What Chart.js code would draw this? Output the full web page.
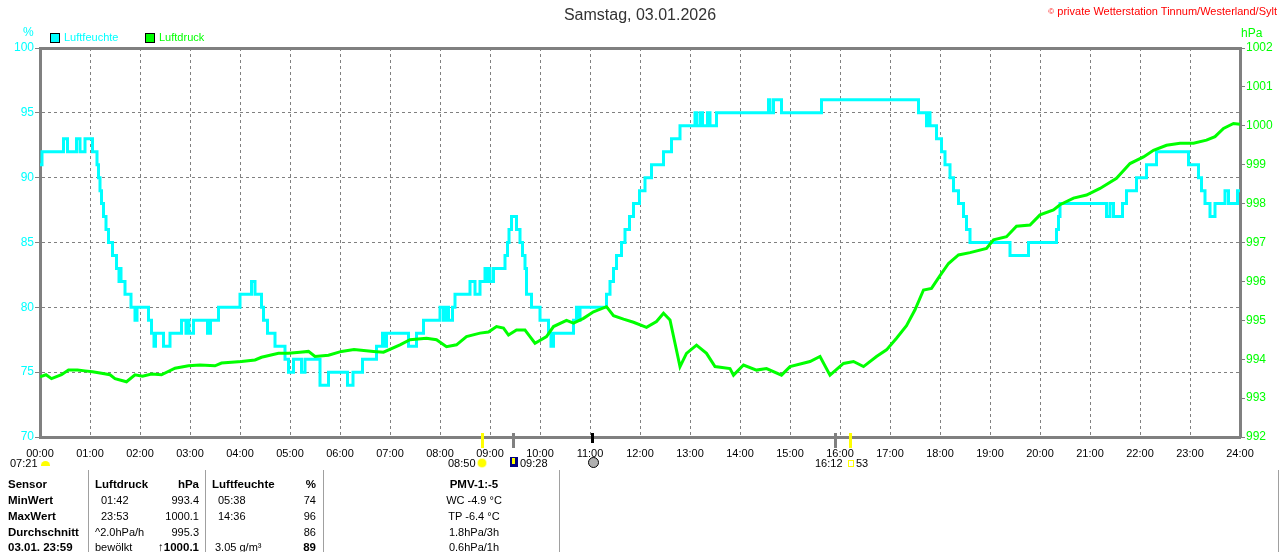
<!DOCTYPE html>
<html>
<head>
<meta charset="utf-8">
<script src="https://cdn.jsdelivr.net/npm/chart.js@4.4.1/dist/chart.umd.min.js"></script>
<style>
body { margin:0; background:#fff; font-family:"Liberation Sans", Arial, sans-serif; }
#wrap { position:relative; width:1280px; height:552px; overflow:hidden; }
#chart { position:absolute; left:0; top:0; }
.t { position:absolute; font-size:11px; line-height:13px; white-space:nowrap; color:#000; }
.b { font-weight:bold; font-size:11.5px; }
.vl { position:absolute; top:470px; height:82px; width:1px; background:#a0a0a0; }
</style>
</head>
<body>
<div id="wrap">
<canvas id="chart" width="1280" height="552"></canvas>

<div class="t" style="left:0;width:1280px;text-align:center;top:6px;font-size:16px;line-height:18px;color:#333">Samstag, 03.01.2026</div>
<div class="t" style="right:3px;top:5px;color:#ff0000"><span style="font-size:8px;vertical-align:top">©</span> private Wetterstation Tinnum/Westerland/Sylt</div>

<div class="t" style="left:23px;top:26px;color:#00ffff;font-size:12px">%</div>
<div class="t" style="left:1241px;top:27px;color:#00ff00;font-size:12px">hPa</div>
<div style="position:absolute;left:50px;top:33px;width:8px;height:8px;border:1px solid #000;background:#00ffff"></div>
<div class="t" style="left:64px;top:31px;color:#00ffff">Luftfeuchte</div>
<div style="position:absolute;left:145px;top:33px;width:8px;height:8px;border:1px solid #000;background:#00ff00"></div>
<div class="t" style="left:159px;top:31px;color:#00ff00">Luftdruck</div>

<!-- sun / event markers under the axis -->
<div class="t" style="left:10px;top:457px">07:21</div>
<div style="position:absolute;left:41px;top:461px;width:9px;height:5px;background:#ffff00;border-radius:5px 5px 0 0"></div>
<div class="t" style="left:448px;top:457px">08:50</div>
<div style="position:absolute;left:478px;top:459px;width:8px;height:8px;background:#ffff00;border-radius:50%;box-shadow:0 0 0 1px #ffffa0"></div>
<div style="position:absolute;left:510px;top:457px;width:8px;height:10px;background:#000080"><div style="position:absolute;left:2px;top:1px;width:3px;height:6px;background:#ffff00"></div></div>
<div class="t" style="left:520px;top:457px">09:28</div>
<div style="position:absolute;left:588px;top:457px;width:9px;height:9px;border:1px solid #000;border-radius:50%;background:#b0b0b0"></div>
<div class="t" style="left:815px;top:457px">16:12</div>
<div style="position:absolute;left:848px;top:460px;width:4px;height:5px;border:1px solid #ffff00"></div>
<div class="t" style="left:856px;top:457px">53</div>

<!-- table -->
<div class="vl" style="left:88px"></div>
<div class="vl" style="left:205px"></div>
<div class="vl" style="left:323px"></div>
<div class="vl" style="left:559px"></div>
<div class="vl" style="left:1278px"></div>

<div class="t b" style="left:8px;top:478px">Sensor</div>
<div class="t b" style="left:95px;top:478px">Luftdruck</div>
<div class="t b" style="right:1081px;top:478px">hPa</div>
<div class="t b" style="left:212px;top:478px">Luftfeuchte</div>
<div class="t b" style="right:964px;top:478px">%</div>
<div class="t b" style="left:424px;width:100px;text-align:center;top:478px">PMV-1:-5</div>

<div class="t b" style="left:8px;top:494px">MinWert</div>
<div class="t" style="left:101px;top:494px">01:42</div>
<div class="t" style="right:1081px;top:494px">993.4</div>
<div class="t" style="left:218px;top:494px">05:38</div>
<div class="t" style="right:964px;top:494px">74</div>
<div class="t" style="left:424px;width:100px;text-align:center;top:494px">WC -4.9 °C</div>

<div class="t b" style="left:8px;top:510px">MaxWert</div>
<div class="t" style="left:101px;top:510px">23:53</div>
<div class="t" style="right:1081px;top:510px">1000.1</div>
<div class="t" style="left:218px;top:510px">14:36</div>
<div class="t" style="right:964px;top:510px">96</div>
<div class="t" style="left:424px;width:100px;text-align:center;top:510px">TP -6.4 °C</div>

<div class="t b" style="left:8px;top:526px">Durchschnitt</div>
<div class="t" style="left:95px;top:526px">^2.0hPa/h</div>
<div class="t" style="right:1081px;top:526px">995.3</div>
<div class="t" style="right:964px;top:526px">86</div>
<div class="t" style="left:424px;width:100px;text-align:center;top:526px">1.8hPa/3h</div>

<div class="t b" style="left:8px;top:541px">03.01. 23:59</div>
<div class="t" style="left:95px;top:541px">bewölkt</div>
<div class="t b" style="right:1081px;top:541px">↑1000.1</div>
<div class="t" style="left:215px;top:541px">3.05 g/m³</div>
<div class="t b" style="right:964px;top:541px">89</div>
<div class="t" style="left:424px;width:100px;text-align:center;top:541px">0.6hPa/1h</div>
</div>

<script>
// Luftfeuchte: time (hours) where a new value starts, and that value (%)
const humTime = [0, 0.04, 0.47, 0.55, 0.73, 0.80, 0.90, 1.05, 1.14, 1.17, 1.20, 1.23, 1.27, 1.32, 1.37, 1.45, 1.53, 1.58, 1.60, 1.62, 1.70, 1.82, 1.90, 1.94,
  2.17, 2.23, 2.28, 2.31, 2.47, 2.60, 2.83, 2.92, 2.95, 2.98, 3.07, 3.35, 3.41, 3.57, 4.00, 4.23, 4.30, 4.43, 4.47, 4.55, 4.70, 4.90, 4.97, 5.07, 5.23, 5.30,
  5.60, 5.77, 6.15, 6.26, 6.45, 6.73, 6.85, 6.88, 6.93, 7.37, 7.53, 7.67, 8.00, 8.07, 8.13, 8.17, 8.25, 8.30, 8.60, 8.70, 8.80, 8.90, 8.95, 8.98, 9.00, 9.07,
  9.30, 9.35, 9.38, 9.43, 9.53, 9.60, 9.65, 9.70, 9.73, 9.83, 10.00, 10.17, 10.22, 10.27, 10.67, 10.73, 10.76, 10.80, 11.33, 11.40, 11.47, 11.53, 11.63, 11.70,
  11.79, 11.87, 11.99, 12.10, 12.23, 12.47, 12.63, 12.80, 13.10, 13.13, 13.20, 13.25, 13.35, 13.40, 13.53, 14.57, 14.60, 14.67, 14.83, 15.63, 17.57, 17.73,
  17.76, 17.80, 17.93, 18.03, 18.10, 18.20, 18.27, 18.37, 18.47, 18.53, 18.60, 19.40, 19.77, 20.33, 20.37, 20.40, 21.33, 21.40, 21.47, 21.65, 21.73, 21.93,
  22.13, 22.33, 22.97, 23.17, 23.23, 23.30, 23.40, 23.50, 23.70, 23.77, 23.95, 24.00];
const humValue = [91, 92, 93, 92, 93, 92, 93, 92, 91, 90, 89, 88, 87, 86, 85, 84, 83, 82, 83, 82, 81, 80, 79, 80,
  79, 78, 77, 78, 77, 78, 79, 78, 79, 78, 79, 78, 79, 80, 81, 82, 81, 80, 79, 78, 77, 76, 75, 76, 75, 76,
  74, 75, 74, 75, 76, 77, 78, 77, 78, 77, 78, 79, 80, 79, 80, 79, 80, 81, 82, 81, 82, 83, 82, 83, 82, 83,
  84, 85, 86, 87, 86, 85, 84, 83, 81, 80, 79, 78, 77, 78, 79, 80, 79, 80, 81, 82, 83, 84, 85, 86,
  87, 88, 89, 90, 91, 92, 93, 94, 95, 94, 95, 94, 95, 94, 95, 96, 95, 96, 95, 96, 95, 94,
  95, 94, 93, 92, 91, 90, 89, 88, 87, 86, 85, 84, 85, 86, 87, 88, 87, 88, 87, 88, 89, 90,
  91, 92, 91, 90, 89, 88, 87, 88, 89, 88, 89, 89];

// Luftdruck (hPa)
const presTime = [0, 0.12, 0.23, 0.43, 0.57, 0.75, 0.90, 1.05, 1.23, 1.40, 1.50, 1.73, 1.90, 2.05, 2.23, 2.43, 2.70, 2.97, 3.20, 3.50, 3.63, 4.03, 4.30,
  4.43, 4.77, 4.97, 5.20, 5.37, 5.50, 5.77, 6.03, 6.28, 6.67, 6.87, 7.20, 7.40, 7.73, 7.93, 8.13, 8.33, 8.53, 8.80, 8.97, 9.13, 9.27, 9.37, 9.53, 9.70,
  9.80, 9.90, 10.13, 10.27, 10.53, 10.67, 10.87, 11.07, 11.33, 11.47, 11.67, 11.87, 12.13, 12.33, 12.47, 12.60, 12.70, 12.80, 12.93, 13.13, 13.33, 13.50,
  13.80, 13.87, 14.07, 14.33, 14.53, 14.83, 15.00, 15.40, 15.60, 15.80, 16.07, 16.27, 16.47, 16.73, 16.93, 17.13, 17.33, 17.50, 17.67, 17.83, 18.00, 18.17,
  18.37, 18.60, 18.93, 19.07, 19.33, 19.53, 19.80, 20.00, 20.27, 20.40, 20.67, 20.93, 21.20, 21.53, 21.80, 22.07, 22.27, 22.53, 22.80, 23.07, 23.33, 23.50,
  23.67, 23.87, 24.00];
const presValue = [993.55, 993.60, 993.50, 993.60, 993.72, 993.72, 993.70, 993.68, 993.64, 993.60, 993.50, 993.42, 993.60, 993.56, 993.62, 993.60, 993.77,
  993.83, 993.85, 993.83, 993.90, 993.94, 993.98, 994.05, 994.15, 994.15, 994.18, 994.20, 994.07, 994.10, 994.20, 994.25, 994.20, 994.18, 994.37, 994.50,
  994.54, 994.50, 994.32, 994.37, 994.58, 994.67, 994.70, 994.84, 994.80, 994.62, 994.75, 994.75, 994.58, 994.41, 994.58, 994.84, 995.00, 994.93, 995.05,
  995.22, 995.35, 995.12, 995.03, 994.95, 994.82, 994.97, 995.18, 995.01, 994.41, 993.81, 994.15, 994.36, 994.15, 993.81, 993.76, 993.59, 993.85, 993.72,
  993.76, 993.59, 993.81, 993.94, 994.07, 993.59, 993.89, 993.94, 993.81, 994.07, 994.24, 994.54, 994.86, 995.27, 995.78, 995.82, 996.15, 996.46, 996.68,
  996.74, 996.85, 997.07, 997.15, 997.42, 997.45, 997.71, 997.84, 997.97, 998.14, 998.22, 998.39, 998.65, 999.03, 999.20, 999.37, 999.50, 999.55, 999.55,
  999.63, 999.72, 999.93, 1000.06, 1000.04];

// short bars under the time axis (sunrise, events)
const markerTime = [8.833, 9.467, 11.04, 15.89, 16.2];
const markerColor = ['#ffff00', '#808080', '#000000', '#808080', '#ffff00'];

function toPoints(xs, ys) {
    return xs.map((x, i) => ({ x: x, y: ys[i] }));
}

const extras = {
    id: 'extras',
    afterDraw(chart) {
        const ctx = chart.ctx;
        const area = chart.chartArea;
        const xs = chart.scales.x;
        ctx.save();
        // top frame line
        ctx.fillStyle = '#808080';
        ctx.fillRect(area.left - 1, area.top - 1, area.right - area.left + 3, 3);
        markerTime.forEach((t, i) => {
            ctx.fillStyle = markerColor[i];
            ctx.fillRect(Math.round(xs.getPixelForValue(t)) - 1, area.bottom - 4, 3, i == 2 ? 10 : 15);
        });
        ctx.restore();
    }
};

Chart.defaults.font.family = '"Liberation Sans", Arial, sans-serif';

const ctx = document.getElementById('chart').getContext('2d');
new Chart(ctx, {
    type: 'line',
    data: {
        datasets: [{
            label: 'Luftfeuchte',
            data: toPoints(humTime, humValue),
            yAxisID: 'y',
            borderColor: '#00ffff',
            borderWidth: 3,
            stepped: true,
            pointRadius: 0,
            order: 2
        }, {
            label: 'Luftdruck',
            data: toPoints(presTime, presValue),
            yAxisID: 'y1',
            borderColor: '#00ff00',
            borderWidth: 3,
            tension: 0,
            pointRadius: 0,
            order: 1
        }]
    },
    options: {
        responsive: false,
        animation: false,
        devicePixelRatio: 1,
        layout: { padding: { top: 48, left: 0, right: 0, bottom: 0 } },
        plugins: { legend: { display: false }, tooltip: { enabled: false } },
        scales: {
            x: {
                type: 'linear', min: 0, max: 24,
                afterFit: s => { s.height = 115; },
                ticks: {
                    stepSize: 1, color: '#000', font: { size: 11 }, padding: 10,
                    maxRotation: 0, autoSkip: false,
                    callback: v => (v < 10 ? '0' : '') + v + ':00'
                },
                grid: { color: '#808080', lineWidth: 1, drawTicks: false },
                border: { color: '#808080', width: 3, dash: [3, 3] }
            },
            y: {
                position: 'left', min: 70, max: 100,
                afterFit: s => { s.width = 40; },
                ticks: { stepSize: 5, color: '#00ffff', font: { size: 12 }, padding: 1, callback: v => String(v) },
                grid: { color: '#808080', lineWidth: 1, tickLength: 5 },
                border: { color: '#808080', width: 3, dash: [3, 3] }
            },
            y1: {
                position: 'right', min: 992, max: 1002,
                afterFit: s => { s.width = 40; },
                ticks: { stepSize: 1, color: '#00ff00', font: { size: 12 }, padding: 1, callback: v => String(v) },
                grid: { drawOnChartArea: false, color: '#808080', tickLength: 5 },
                border: { color: '#808080', width: 3 }
            }
        }
    },
    plugins: [extras]
});
</script>
</body>
</html>
